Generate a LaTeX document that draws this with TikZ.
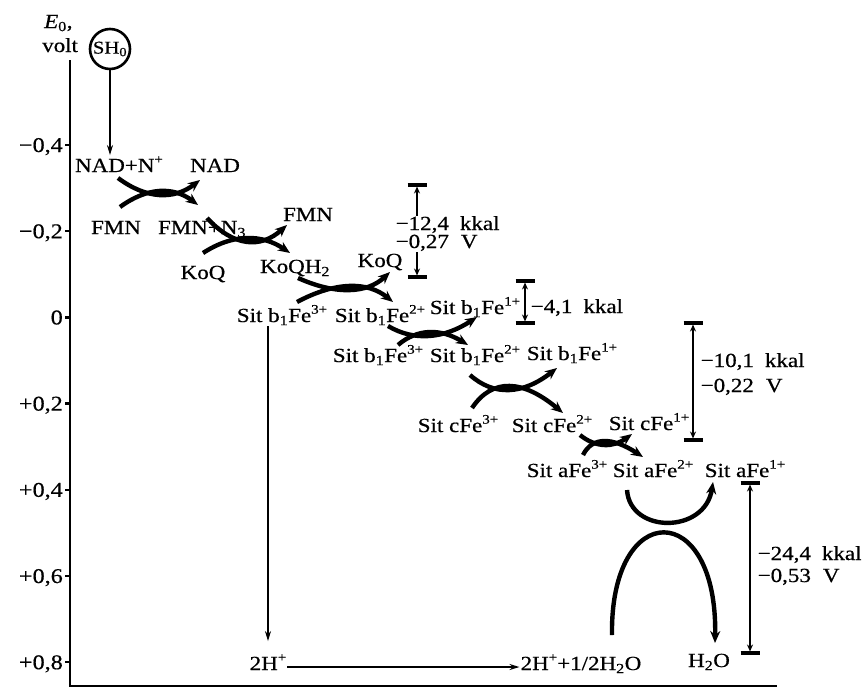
\documentclass[tikz,border=0pt]{standalone}
\usepackage{fontspec}
\setmainfont[FakeStretch=1.15,FakeBold=0.6]{Liberation Serif}
\usetikzlibrary{arrows.meta,calc}
\newcommand{\supx}[1]{\raisebox{0.42em}{\fontsize{13}{13}\selectfont #1}}
\begin{document}
\begin{tikzpicture}[x=1pt,y=-1pt,
  lbl/.style={anchor=base,inner sep=1pt,font=\fontsize{20}{24}\selectfont},
  axl/.style={anchor=base east,inner sep=0pt,font=\fontsize{21}{24}\selectfont},
  enl/.style={anchor=base west,inner sep=0.5pt,fill=white,font=\fontsize{20}{24}\selectfont},
  xarc/.style={line width=4.4pt,-{Stealth[length=12pt,width=10pt]}},
  thinarr/.style={line width=2pt,-{Stealth[length=10pt,width=6pt]}},
  gaparr/.style={line width=2.2pt,{Stealth[length=7pt,width=6pt]}-{Stealth[length=7pt,width=6pt]}},
  tick/.style={line width=2.5pt}]
\useasboundingbox (0,0) rectangle (866,688);
\newcommand{\qarc}[3]{\draw[xarc] (#1) .. controls ($(#1)!2/3!(#2)$) and ($(#3)!2/3!(#2)$) .. (#3);}

% axes
\coordinate (axtop) at (70,60);
\coordinate (axorig) at (70,686);
\coordinate (axend) at (777,686);
\draw[line width=2.6pt] (axtop) -- (axorig) -- (axend);
\foreach \i in {0,...,6}{
  \pgfmathsetmacro{\yy}{145+86.2*\i}
  \draw[tick] (65,\yy) -- (70,\yy);
}
\node[axl] (m4) at (63,152) {−0,4};
\node[axl] (m2) at (63,238.2) {−0,2};
\node[axl] (z0) at (63,324.4) {0};
\node[axl] (p2) at (63,410.6) {+0,2};
\node[axl] (p4) at (63,496.8) {+0,4};
\node[axl] (p6) at (63,583) {+0,6};
\node[axl] (p8) at (63,669.2) {+0,8};
\node[anchor=base west,inner sep=0pt,font=\fontsize{20}{24}\selectfont] (e0) at (44,28) {\textit{E}\textsubscript{0},};
\node[anchor=base west,inner sep=0pt,font=\fontsize{20}{24}\selectfont] (volt) at (42,52) {volt};
\node[draw,circle,line width=2.6pt,minimum size=40pt,inner sep=0pt,font=\fontsize{18}{20}\selectfont] (sh) at (110,49) {SH\textsubscript{0}};

% species
\node[lbl] (nad1) at (119,172) {NAD+N\supx{+}};
\node[lbl] (nad2) at (215,172) {NAD};
\node[lbl] (fmn1) at (116,234) {FMN};
\node[lbl] (fmn2) at (202,234) {FMN+N\textsubscript{3}};
\node[lbl] (fmn3) at (308,221) {FMN};
\node[lbl] (koq1) at (203,279) {KoQ};
\node[lbl] (koqh) at (295,273) {KoQH\textsubscript{2}};
\node[lbl] (koq2) at (380,267) {KoQ};
\node[lbl] (b13) at (282,322) {Sit b\textsubscript{1}Fe\supx{3+}};
\node[lbl] (b12) at (380,322) {Sit b\textsubscript{1}Fe\supx{2+}};
\node[lbl] (b11) at (475,314) {Sit b\textsubscript{1}Fe\supx{1+}};
\node[lbl] (bb13) at (378,362) {Sit b\textsubscript{1}Fe\supx{3+}};
\node[lbl] (bb12) at (475,362) {Sit b\textsubscript{1}Fe\supx{2+}};
\node[lbl] (bb11) at (572,360) {Sit b\textsubscript{1}Fe\supx{1+}};
\node[lbl] (c3) at (458,432) {Sit cFe\supx{3+}};
\node[lbl] (c2) at (552,432) {Sit cFe\supx{2+}};
\node[lbl] (c1) at (649,430) {Sit cFe\supx{1+}};
\node[lbl] (a3) at (567,477) {Sit aFe\supx{3+}};
\node[lbl] (a2) at (653,477) {Sit aFe\supx{2+}};
\node[lbl] (a1) at (745,477) {Sit aFe\supx{1+}};
\node[lbl] (h2) at (268,670) {2H\supx{+}};
\node[lbl] (hw) at (581,670) {2H\supx{+}+1/2H\textsubscript{2}O};
\node[lbl] (w) at (709,667) {H\textsubscript{2}O};

% straight arrows
\draw[thinarr] (sh.south) -- (sh.south |- nad1.north);
\draw[thinarr,shorten >=12pt] (h2 |- b13.south) -- (h2.north);
\draw[thinarr] (h2.east |- 0,667) -- (hw.west |- 0,667);

% crossing arcs (electron transfer)
\coordinate (x1a) at (118,178); \coordinate (x1q) at (161,210); \coordinate (x1b) at (200,180);
\coordinate (x1c) at (120,207); \coordinate (x1r) at (161,177); \coordinate (x1d) at (198,205);
\qarc{x1a}{x1q}{x1b} \qarc{x1c}{x1r}{x1d}

\coordinate (x2a) at (207,218); \coordinate (x2q) at (247,261); \coordinate (x2b) at (287,225);
\coordinate (x2c) at (203,253); \coordinate (x2r) at (247.5,224); \coordinate (x2d) at (290,253);
\qarc{x2a}{x2q}{x2b} \qarc{x2c}{x2r}{x2d}

\coordinate (x3a) at (298,278); \coordinate (x3q) at (356,304); \coordinate (x3b) at (390,272);
\coordinate (x3c) at (297,302); \coordinate (x3r) at (355,271); \coordinate (x3d) at (393,302);
\qarc{x3a}{x3q}{x3b} \qarc{x3c}{x3r}{x3d}

\coordinate (x4a) at (388,326); \coordinate (x4q) at (427.5,349.5); \coordinate (x4b) at (477,317);
\coordinate (x4c) at (398,345); \coordinate (x4r) at (427,320); \coordinate (x4d) at (468,345);
\qarc{x4a}{x4q}{x4b} \qarc{x4c}{x4r}{x4d}

\coordinate (x5a) at (470,375); \coordinate (x5q) at (506.5,407.5); \coordinate (x5b) at (557,368);
\coordinate (x5c) at (472,408); \coordinate (x5r) at (502.5,362.5); \coordinate (x5d) at (563,413);
\qarc{x5a}{x5q}{x5b} \qarc{x5c}{x5r}{x5d}

\coordinate (x6a) at (580,435); \coordinate (x6q) at (604,454.5); \coordinate (x6b) at (632,434);
\coordinate (x6c) at (583,455); \coordinate (x6r) at (597,427); \coordinate (x6d) at (643,457);
\qarc{x6a}{x6q}{x6b} \qarc{x6c}{x6r}{x6d}

\coordinate (x7a) at (627,490); \coordinate (x7b) at (713,482);
\coordinate (x7c) at (612,635); \coordinate (x7d) at (715,643);
\draw[xarc] (x7a) .. controls (630,534) and (705,534) .. (x7b);
\draw[xarc] (x7c) .. controls (610,498) and (718,498) .. (x7d);

% energy gaps
\coordinate (g1t) at (417,185); \coordinate (g1b) at (417,277);
\coordinate (g2t) at (525,281); \coordinate (g2b) at (525,323);
\coordinate (g3t) at (693,323); \coordinate (g3b) at (693,440);
\coordinate (g4t) at (750,483); \coordinate (g4b) at (750,653);
\foreach \g in {1,2,3,4}{
  \draw[gaparr,shorten <=1.5pt,shorten >=1.5pt] (g\g t) -- (g\g b);
  \draw[line width=3.5pt] ([xshift=-9.5pt]g\g t) -- ([xshift=9.5pt]g\g t);
  \draw[line width=3.5pt] ([xshift=-9.5pt]g\g b) -- ([xshift=9.5pt]g\g b);
}
\node[enl] (e1) at (395,230) {−12,4\hspace{0.55em}kkal};
\node[enl] (v1) at (395,248) {−0,27\hspace{0.6em}V};
\node[enl,fill=none] (e2) at (530,313) {−4,1\hspace{0.55em}kkal};
\node[enl,fill=none] (e3) at (700,367) {−10,1\hspace{0.55em}kkal};
\node[enl,fill=none] (v3) at (700,392) {−0,22\hspace{0.6em}V};
\node[enl,fill=none] (e4) at (757,560) {−24,4\hspace{0.55em}kkal};
\node[enl,fill=none] (v4) at (757,582) {−0,53\hspace{0.6em}V};
\end{tikzpicture}
\end{document}
